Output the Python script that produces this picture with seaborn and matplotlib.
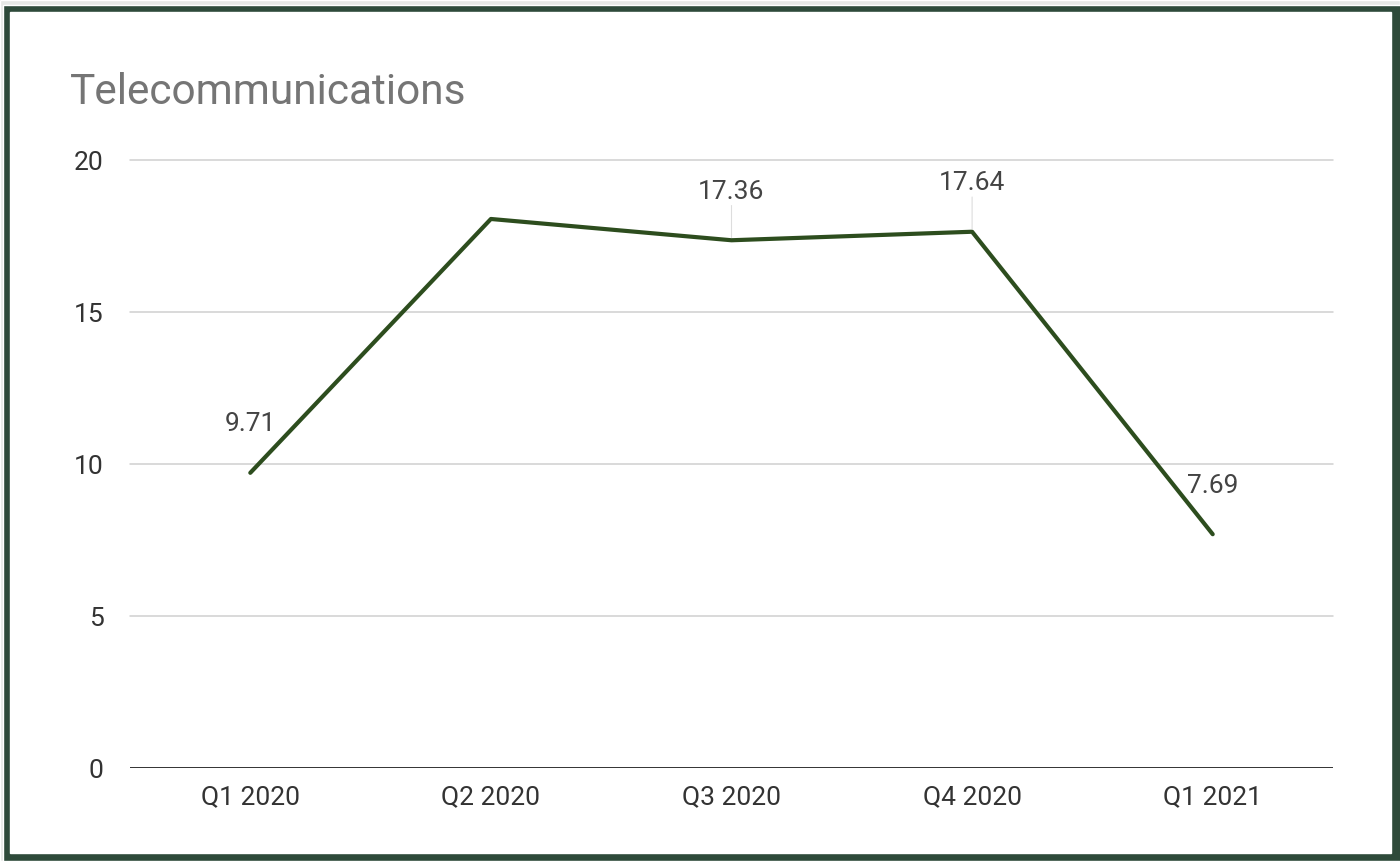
import seaborn as sns
import matplotlib.pyplot as plt
import matplotlib.patches as mpatches
import pandas as pd

quarters = ["Q1 2020", "Q2 2020", "Q3 2020", "Q4 2020", "Q1 2021"]
values = [9.71, 18.06, 17.36, 17.64, 7.69]
shown_labels = ["9.71", None, "17.36", "17.64", "7.69"]
leader = [False, False, True, True, False]
y_ticks = [0, 5, 10, 15, 20]

df = pd.DataFrame({"quarter": quarters, "value": values})
df["pos"] = range(len(df))

sns.set_style("white")
plt.rcParams["font.family"] = ["Roboto", "DejaVu Sans"]

fig = plt.figure(figsize=(14, 8.61), dpi=100)
fig.patch.set_facecolor("#2e4a3a")
fig.patches.append(mpatches.Rectangle((0, 0), 1, 1, transform=fig.transFigure,
                                      facecolor="#e6e8e6", zorder=-3))
fig.patches.append(mpatches.Rectangle((3 / 1400, 0), 1, 1 - 5 / 861,
                                      transform=fig.transFigure,
                                      facecolor="#2e4a3a", zorder=-2))
fig.patches.append(mpatches.Rectangle((10 / 1400, 8 / 861), 1381 / 1400, 841 / 861,
                                      transform=fig.transFigure,
                                      facecolor="white", zorder=-1))

ax = fig.add_axes([130 / 1400, 93 / 861, 1203 / 1400, 608 / 861])
ax.set_facecolor("none")

sns.lineplot(data=df, x="pos", y="value", ax=ax, color="#2d4d1e",
             linewidth=3, zorder=3)

ax.set_xlim(-0.5, len(quarters) - 0.5)
ax.set_ylim(0, 20)
ax.set_xticks(df["pos"])
ax.set_xticklabels(quarters)
ax.set_yticks(y_ticks)
ax.set_xlabel("")
ax.set_ylabel("")
for s in ax.spines.values():
    s.set_visible(False)
ax.tick_params(length=0, labelsize=19, colors="#333333")
ax.tick_params(axis="y", pad=19)
ax.tick_params(axis="x", pad=12)

for t in y_ticks[1:]:
    ax.axhline(t, color="#cfcfcf", linewidth=1.1, zorder=1, clip_on=False)
ax.axhline(0, color="#333333", linewidth=1.4, zorder=2)

for i, (v, lab) in enumerate(zip(values, shown_labels)):
    if lab is None:
        continue
    ax.annotate(lab, (i, v), xytext=(0, 35), textcoords="offset points",
                ha="center", va="center", fontsize=19, color="#444444")
    if leader[i]:
        ax.annotate("", (i, v), xytext=(0, 25), textcoords="offset points",
                    arrowprops=dict(arrowstyle="-", color="#dddddd", lw=0.8,
                                    shrinkA=0, shrinkB=2))

fig.text(70 / 1400, 1 - 93 / 861, "Telecommunications", fontsize=30.5,
         color="#757575", ha="left", va="center")

fig.savefig("out.png", dpi=100, facecolor=fig.get_facecolor())
